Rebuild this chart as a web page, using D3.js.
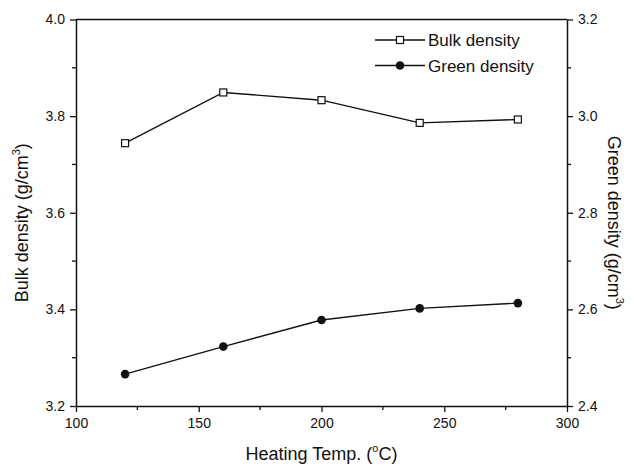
<!DOCTYPE html>
<html><head><meta charset="utf-8">
<script src="https://cdn.jsdelivr.net/npm/d3@7"></script>
<style>body{margin:0;background:#fff}svg{display:block}text{font-family:"Liberation Sans",Arial,sans-serif;fill:#111}</style>
</head><body><svg id="c" width="633" height="471"></svg>
<script>
const temps = [120, 160, 200, 240, 280];
const bulkDensity = [3.744, 3.849, 3.833, 3.786, 3.793];
const greenDensity = [2.466, 2.523, 2.578, 2.602, 2.613];
const xTicks = [100, 150, 200, 250, 300];
const leftTicks = [3.2, 3.4, 3.6, 3.8, 4.0];
const rightTicks = [2.4, 2.6, 2.8, 3.0, 3.2];

const svg = d3.select("#c");
const L = 76, R = 567, T = 19.5, B = 406;
const x = d3.scaleLinear().domain([100, 300]).range([L, R]);
const yL = d3.scaleLinear().domain([3.2, 4.0]).range([B, T]);
const yR = d3.scaleLinear().domain([2.4, 3.2]).range([B, T]);
const ink = "#111";

function minorTicks(g, scale, vals, orient, len) {
  vals.forEach(v => {
    const p = scale(v);
    if (orient === "bottom") g.append("line").attr("x1", p).attr("x2", p).attr("y1", 0).attr("y2", len);
    if (orient === "left") g.append("line").attr("y1", p).attr("y2", p).attr("x1", 0).attr("x2", -len);
    if (orient === "right") g.append("line").attr("y1", p).attr("y2", p).attr("x1", 0).attr("x2", len);
  });
  g.selectAll("line.m").attr("stroke", ink);
}

// bottom axis
const gx = svg.append("g").attr("transform", `translate(0,${B})`)
  .call(d3.axisBottom(x).tickValues(xTicks).tickFormat(d3.format("d")).tickSize(6).tickPadding(6).tickSizeOuter(0));
const gxm = gx.append("g");
minorTicks(gxm, x, [125, 175, 225, 275], "bottom", 4);
// left axis
const gl = svg.append("g").attr("transform", `translate(${L},0)`)
  .call(d3.axisLeft(yL).tickValues(leftTicks).tickFormat(d3.format(".1f")).tickSize(6).tickPadding(5).tickSizeOuter(0));
minorTicks(gl.append("g"), yL, [3.3, 3.5, 3.7, 3.9], "left", 4);
// right axis
const gr = svg.append("g").attr("transform", `translate(${R},0)`)
  .call(d3.axisRight(yR).tickValues(rightTicks).tickFormat(d3.format(".1f")).tickSize(6).tickPadding(5).tickSizeOuter(0));
minorTicks(gr.append("g"), yR, [2.5, 2.7, 2.9, 3.1], "right", 4);
// top line
svg.append("line").attr("x1", L).attr("x2", R).attr("y1", T).attr("y2", T).attr("stroke", ink).attr("stroke-width", 1.5);

svg.selectAll(".domain").attr("stroke", ink).attr("stroke-width", 1.5);
svg.selectAll(".tick line").attr("stroke", ink).attr("stroke-width", 1.3);
svg.selectAll("g line").attr("stroke", ink).attr("stroke-width", 1.3);
svg.selectAll(".tick text").attr("font-size", 14).attr("font-family", "Liberation Sans, Arial, sans-serif").attr("fill", ink);

// lines
const lineB = d3.line().x((d, i) => x(temps[i])).y(d => yL(d));
const lineG = d3.line().x((d, i) => x(temps[i])).y(d => yR(d));
svg.append("path").attr("d", lineB(bulkDensity)).attr("fill", "none").attr("stroke", ink).attr("stroke-width", 1.4);
svg.append("path").attr("d", lineG(greenDensity)).attr("fill", "none").attr("stroke", ink).attr("stroke-width", 1.4);
const sq = 7;
svg.selectAll("rect.b").data(bulkDensity).enter().append("rect")
  .attr("x", (d, i) => x(temps[i]) - sq / 2).attr("y", d => yL(d) - sq / 2)
  .attr("width", sq).attr("height", sq).attr("fill", "#fff").attr("stroke", ink).attr("stroke-width", 1.2);
svg.selectAll("circle.g").data(greenDensity).enter().append("circle")
  .attr("cx", (d, i) => x(temps[i])).attr("cy", d => yR(d)).attr("r", 4.3).attr("fill", ink);

// legend
const lg = svg.append("g");
lg.append("line").attr("x1", 375).attr("x2", 425).attr("y1", 40).attr("y2", 40).attr("stroke", ink).attr("stroke-width", 1.4);
lg.append("rect").attr("x", 400 - sq / 2).attr("y", 40 - sq / 2).attr("width", sq).attr("height", sq).attr("fill", "#fff").attr("stroke", ink).attr("stroke-width", 1.2);
lg.append("text").attr("x", 428).attr("y", 46).attr("font-size", 17).text("Bulk density");
lg.append("line").attr("x1", 375).attr("x2", 425).attr("y1", 65.5).attr("y2", 65.5).attr("stroke", ink).attr("stroke-width", 1.4);
lg.append("circle").attr("cx", 400).attr("cy", 65.5).attr("r", 4.3).attr("fill", ink);
lg.append("text").attr("x", 428).attr("y", 71.5).attr("font-size", 17).text("Green density");

// axis titles
const xt = svg.append("text").attr("x", (L + R) / 2).attr("y", 460).attr("text-anchor", "middle").attr("font-size", 18);
xt.append("tspan").text("Heating Temp. (");
xt.append("tspan").attr("font-size", 11).attr("dy", -8).text("o");
xt.append("tspan").attr("dy", 8).text("C)");

const yt = svg.append("text").attr("transform", `translate(28,${(T + B) / 2 + 10}) rotate(-90)`).attr("text-anchor", "middle").attr("font-size", 18);
yt.append("tspan").text("Bulk density (g/cm");
yt.append("tspan").attr("font-size", 11).attr("dy", -8).text("3");
yt.append("tspan").attr("dy", 8).text(")");

const rt = svg.append("text").attr("transform", `translate(608,${(T + B) / 2 + 10}) rotate(90)`).attr("text-anchor", "middle").attr("font-size", 18);
rt.append("tspan").text("Green density (g/cm");
rt.append("tspan").attr("font-size", 11).attr("dy", -8).text("3");
rt.append("tspan").attr("dy", 8).text(")");
</script></body></html>
